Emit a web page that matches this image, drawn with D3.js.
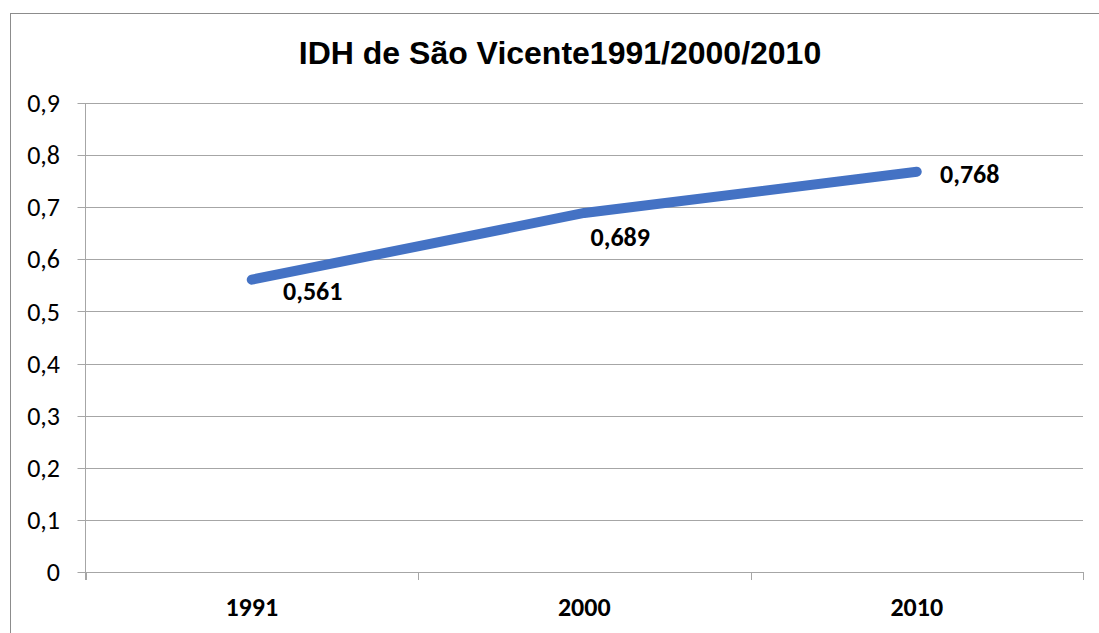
<!DOCTYPE html>
<html><head><meta charset="utf-8">
<script src="https://cdn.jsdelivr.net/npm/d3@7"></script>
<style>html,body{margin:0;padding:0;background:#fff;overflow:hidden}
.t{font-family:"Liberation Sans", Arimo, Arial, Helvetica, sans-serif;font-weight:bold}</style>
</head><body>
<svg id="c" width="1099" height="633"></svg>
<script>
const title = "IDH de São Vicente1991/2000/2010";
const categories = ["1991", "2000", "2010"];
const values = [0.561, 0.689, 0.768];
const valueLabels = ["0,561", "0,689", "0,768"];
const yTicks = [0, 0.1, 0.2, 0.3, 0.4, 0.5, 0.6, 0.7, 0.8, 0.9];
const yTickLabels = ["0", "0,1", "0,2", "0,3", "0,4", "0,5", "0,6", "0,7", "0,8", "0,9"];

// label offsets (style, not data)
const labelOffsets = [[61, 11], [36, 24], [53, 2]];

const svg = d3.select("#c");
const L = 85.5, R = 1083, T = 103, B = 572;
const font = "Carlito, Lato, 'Open Sans', sans-serif";
const fs = 26;

svg.append("rect").attr("x", 10.5).attr("y", 13.5).attr("width", 1200).attr("height", 800)
  .attr("fill", "#fff").attr("stroke", "#8c8c8c").attr("stroke-width", 1);

const x = d3.scaleBand().domain(categories).range([L, R]);
const y = d3.scaleLinear().domain([0, 0.9]).range([B, T]);

svg.append("g").selectAll("line").data(yTicks).join("line")
  .attr("x1", L - 8).attr("x2", R)
  .attr("y1", d => Math.round(y(d)) + 0.5).attr("y2", d => Math.round(y(d)) + 0.5)
  .attr("stroke", "#a6a6a6").attr("stroke-width", 1);

svg.append("line").attr("x1", L).attr("x2", L).attr("y1", T).attr("y2", B + 8)
  .attr("stroke", "#a6a6a6");

const bounds = categories.map(c => x(c)).concat([R]);
svg.append("g").selectAll("line").data(bounds).join("line")
  .attr("x1", d => Math.round(d) + 0.5).attr("x2", d => Math.round(d) + 0.5)
  .attr("y1", B).attr("y2", B + 8).attr("stroke", "#a6a6a6");

svg.append("g").selectAll("text").data(yTicks).join("text")
  .attr("x", 60).attr("y", d => y(d)).attr("dy", "0.35em")
  .attr("text-anchor", "end").attr("font-family", font).attr("font-size", fs)
  .attr("fill", "#000").text((d, i) => yTickLabels[i]);

svg.append("g").selectAll("text").data(categories).join("text")
  .attr("x", d => x(d) + x.bandwidth() / 2).attr("y", 616)
  .attr("text-anchor", "middle").attr("font-family", font).attr("font-weight", "bold")
  .attr("font-size", fs).attr("fill", "#000").text(d => d);

const pts = categories.map((c, i) => [x(c) + x.bandwidth() / 2, y(values[i])]);
svg.append("path").attr("d", d3.line()(pts)).attr("fill", "none")
  .attr("stroke", "#4472C4").attr("stroke-width", 10)
  .attr("stroke-linecap", "round").attr("stroke-linejoin", "round");

svg.append("g").selectAll("text").data(pts).join("text")
  .attr("x", (d, i) => d[0] + labelOffsets[i][0]).attr("y", (d, i) => d[1] + labelOffsets[i][1])
  .attr("dy", "0.35em").attr("text-anchor", "middle").attr("font-family", font)
  .attr("font-weight", "bold").attr("font-size", fs).attr("fill", "#000")
  .text((d, i) => valueLabels[i]);

svg.append("text").attr("class", "t").attr("x", 560).attr("y", 64).attr("text-anchor", "middle")
  .attr("font-size", 32).attr("fill", "#000").text(title);
</script>
</body></html>
